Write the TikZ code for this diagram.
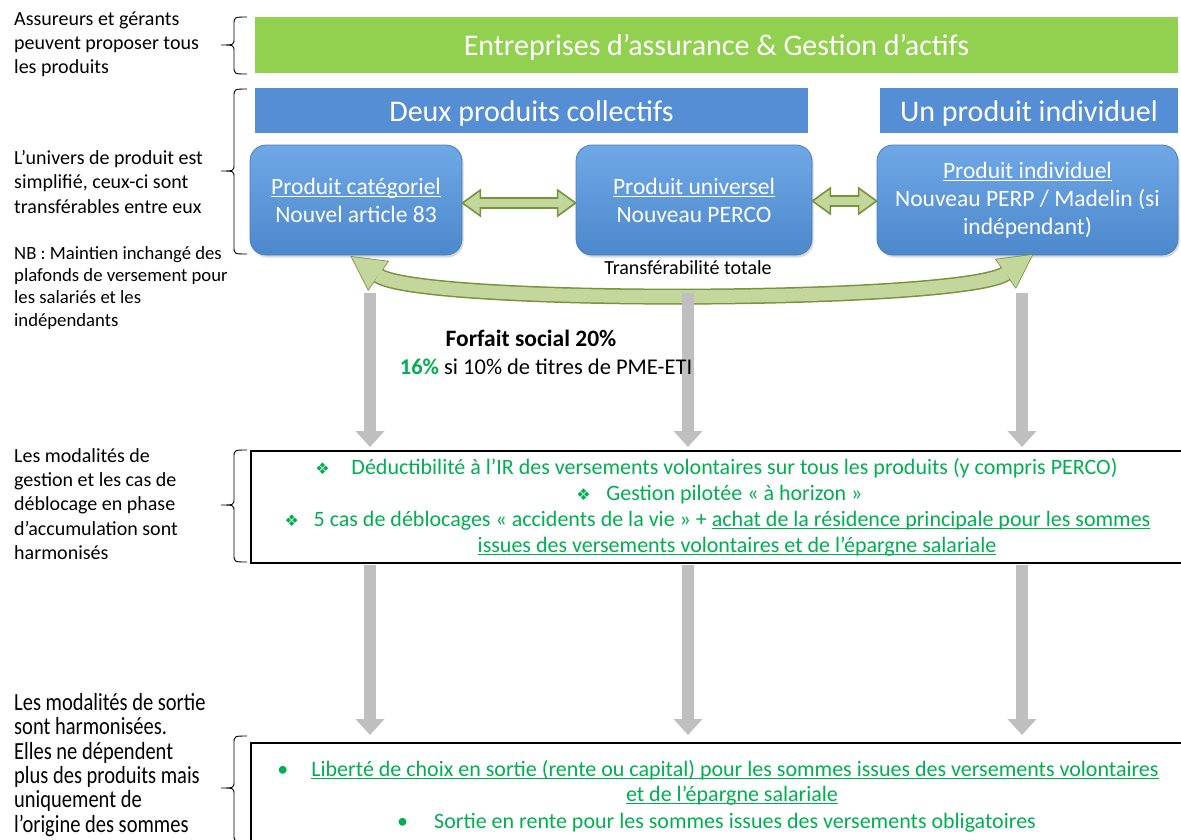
\documentclass[tikz,border=0pt]{standalone}
\usepackage{fontspec}
\setmainfont{Carlito}
\newfontfamily\dejavu{DejaVu Sans}
\usetikzlibrary{calc,arrows.meta,shadows}
\definecolor{barGreen}{HTML}{92D050}
\definecolor{barBlue}{HTML}{558ED5}
\definecolor{boxTop}{HTML}{6FA8E6}
\definecolor{boxBot}{HTML}{4C88CC}
\definecolor{boxLine}{HTML}{4A7EBB}
\definecolor{arrFill}{HTML}{C3D69B}
\definecolor{arrLine}{HTML}{77933C}
\definecolor{greyArr}{HTML}{BFBFBF}
\definecolor{txtGreen}{HTML}{00B050}
\newcommand\fsz[2]{\fontsize{#1}{#2}\selectfont}
\newcommand\myul[1]{\setbox0\hbox{#1}\rlap{\rule[-3pt]{\wd0}{1pt}}\box0}
\newcommand\dia[1]{\makebox[#1][l]{{\dejavu\fsz{16}{16}❖}}}
\newcommand\bul[1]{\makebox[#1][l]{•}}
\newcommand\mybrace[3]{%
  \draw[bracepen] (247,#1) .. controls (234,#1) .. (234,{#1+8}) -- (234,{#2-7})
    .. controls (234,#2) .. (221,#2) .. controls (234,#2) .. (234,{#2+7})
    -- (234,{#3-8}) .. controls (234,#3) .. (247,#3);}
\newcommand\blockdbl[2]{%
  \path[draw=arrLine, fill=arrFill, line width=1.6pt, line join=miter] let \p1=#1, \p2=#2 in
  (\x1,\y1) -- (\x1+18pt,\y1+13pt) -- (\x1+18pt,\y1+5pt) -- (\x2-18pt,\y1+5pt)
  -- (\x2-18pt,\y1+13pt) -- (\x2,\y1) -- (\x2-18pt,\y1-13pt) -- (\x2-18pt,\y1-5pt)
  -- (\x1+18pt,\y1-5pt) -- (\x1+18pt,\y1-13pt) -- cycle;}
\tikzset{
  bar/.style={inner sep=0pt, text=white},
  prodbox/.style={rounded corners=16pt, draw=boxLine, line width=0.8pt, top color=boxTop,
    bottom color=boxBot, text=white, align=center, inner sep=0pt, font=\fsz{23.5}{28},
    drop shadow={opacity=0.3, shadow xshift=1.5pt, shadow yshift=-2.5pt}},
  panel/.style={draw=black, line width=1.5pt, anchor=north west, inner sep=0pt},
  lefttxt/.style={anchor=north west, align=left, inner sep=0pt, font=\fsz{20}{24.4}},
  greytip/.style={line width=12pt, draw=greyArr, -{Triangle[width=28pt,length=16pt]}},
  gline/.style={text=txtGreen, inner sep=0pt, font=\fsz{22}{26}, anchor=base},
  bracepen/.style={line width=0.9pt, draw=black},
}
\begin{document}
\begin{tikzpicture}[x=1pt,y=-1pt]
\clip (0,0) rectangle (1181,839);
\fill[white] (0,0) rectangle (1181,839);

% top bars
\node[bar, fill=barGreen, minimum width=923pt, minimum height=56pt] (top) at (716.5,45) {};
\node[bar, font=\fsz{30}{34}] (toptxt) at (716.5,47.5) {Entreprises d’assurance \& Gestion d’actifs};
\node[bar, fill=barBlue, minimum width=553pt, minimum height=45pt] (coll) at (531.5,110.5) {};
\node[bar, font=\fsz{30}{34}] (colltxt) at (531.5,113) {Deux produits collectifs};
\node[bar, fill=barBlue, minimum width=298pt, minimum height=45pt] (indiv) at (1029,110.5) {};
\node[bar, font=\fsz{30}{34}] (indivtxt) at (1029,113) {Un produit individuel};

% product boxes
\node[prodbox, minimum width=212pt, minimum height=110pt] (b1) at (356,200) {\myul{Produit catégoriel}\\Nouvel article 83};
\node[prodbox, minimum width=236pt, minimum height=110pt] (b2) at (694,200) {\myul{Produit universel}\\Nouveau PERCO};
\node[prodbox, minimum width=301pt, minimum height=110pt] (b3) at (1027.5,200) {\myul{Produit individuel}\\Nouveau PERP / Madelin (si\\indépendant)};

% horizontal double arrows
\blockdbl{($(b1.east)+(0,3)$)}{($(b2.west)+(0,3)$)}
\blockdbl{($(b2.east)+(0,1)$)}{($(b3.west)+(0,1)$)}

% curved double arrow
\coordinate (bl) at ($(b1.south)+(22,20)$);
\coordinate (br) at ($(b3.south)+(-21.5,18)$);
\coordinate (c1) at (420,305);
\coordinate (c2) at (964,303);
\coordinate (tl) at ($(bl)!-32pt!(c1)$);
\coordinate (tla) at ($(bl)!17pt!90:(c1)$);
\coordinate (tlb) at ($(bl)!17pt!-90:(c1)$);
\coordinate (tr) at ($(br)!-32pt!(c2)$);
\coordinate (tra) at ($(br)!17pt!90:(c2)$);
\coordinate (trb) at ($(br)!17pt!-90:(c2)$);
\draw[line width=16pt, arrLine] (bl) .. controls (c1) and (c2) .. (br);
\draw[arrLine, line width=1.6pt, line join=miter] (tl) -- (tla) -- (tlb) -- cycle;
\draw[arrLine, line width=1.6pt, line join=miter] (tr) -- (tra) -- (trb) -- cycle;
\fill[arrFill] (tl) -- (tla) -- (tlb) -- cycle;
\fill[arrFill] (tr) -- (tra) -- (trb) -- cycle;
\draw[line width=13pt, arrFill] (bl) .. controls (c1) and (c2) .. (br);
\node[inner sep=0pt, font=\fsz{20}{24}] (transf) at (688,268) {Transférabilité totale};

% panels
\node[panel, minimum width=950pt, minimum height=112pt] (p2) at (250,450) {};
\node[panel, minimum width=950pt, minimum height=120pt] (p3) at (250,742) {};

% grey arrows
\coordinate (g1) at ($(b1.south)+(14,38)$);
\coordinate (g2) at ($(b2.south)+(-6,38)$);
\coordinate (g3) at ($(b3.south)+(-5.5,38)$);
\foreach \g in {g1,g2,g3}{
  \draw[greytip] (\g) -- ($(\g |- p2.north)+(0,-3)$);
  \draw[greytip] ($(\g |- p2.south)+(0,1)$) -- ($(\g |- p3.north)+(0,-7)$);
}

% forfait social
\node[inner sep=0pt, font=\bfseries\fsz{23.5}{27}] (fs) at (531,338) {Forfait social 20\%};
\node[inner sep=0pt, font=\fsz{22.5}{26}] (fs2) at (546,367) {\textcolor{txtGreen}{\bfseries 16\%} si 10\% de titres de PME-ETI};

% panel 2 text
\node[gline] (l1) at (716.5,474) {\dia{36pt}Déductibilité à l’IR des versements volontaires sur tous les produits (y compris PERCO)};
\node[gline] (l2) at (719.5,500) {\dia{30pt}Gestion pilotée « à horizon »};
\node[gline] (l3) at (717.5,526) {\dia{29pt}5 cas de déblocages « accidents de la vie » + \myul{achat de la résidence principale pour les sommes}};
\node[gline] (l4) at (737,552) {\myul{issues des versements volontaires et de l’épargne salariale}};

% panel 3 text
\node[gline] (m1) at (718,776) {\bul{34pt}\myul{Liberté de choix en sortie (rente ou capital) pour les sommes issues des versements volontaires}};
\node[gline] (m2) at (732,801) {\myul{et de l’épargne salariale}};
\node[gline] (m3) at (716.5,828) {\bul{37pt}Sortie en rente pour les sommes issues des versements obligatoires};

% left labels
\node[lefttxt, font=\fsz{20}{24}] (t1) at (14,12) {Assureurs et gérants\\peuvent proposer tous\\les produits};
\node[lefttxt, font=\fsz{20}{24.6}] (t2) at (14,150) {L’univers de produit est\\simplifié, ceux-ci sont\\transférables entre eux};
\node[lefttxt, font=\fsz{18.7}{22.4}] (t3) at (14,246) {NB : Maintien inchangé des\\plafonds de versement pour\\les salariés et les\\indépendants};
\node[lefttxt] (t4) at (14,448) {Les modalités de\\gestion et les cas de\\déblocage en phase\\d’accumulation sont\\harmonisés};
\node[lefttxt, font=\fsz{20.5}{20.3}] (t5) at (14,693) {\scalebox{1}[1.2]{\begin{tabular}{@{}l@{}}Les modalités de sortie\\sont harmonisées.\\Elles ne dépendent\\plus des produits mais\\uniquement de\\l’origine des sommes\end{tabular}}};

% braces
\mybrace{17}{45}{74}
\mybrace{89}{171}{254}
\mybrace{450}{505}{562}
\mybrace{736}{788}{842}
\end{tikzpicture}
\end{document}
